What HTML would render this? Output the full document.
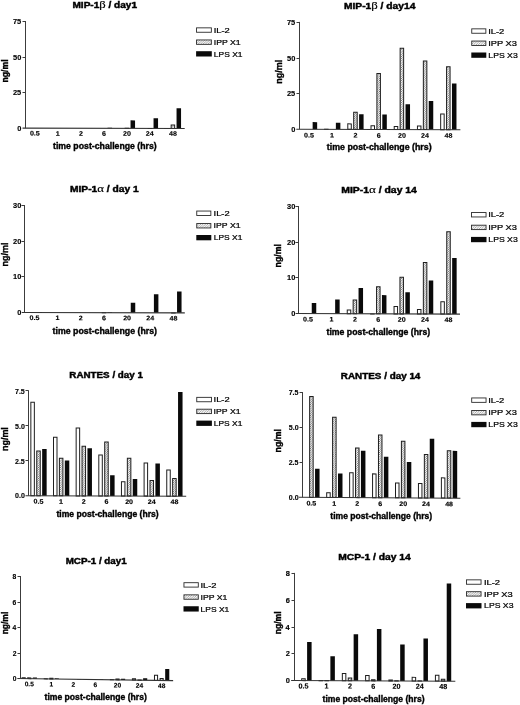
<!DOCTYPE html>
<html><head><meta charset="utf-8"><title>Chemokine production charts</title>
<style>
html,body{margin:0;padding:0;background:#fff;}
body{width:520px;height:705px;overflow:hidden;}
svg{display:block;font-family:"Liberation Sans",sans-serif;filter:blur(0.35px);}
</style></head><body>
<svg width="520" height="705" viewBox="0 0 520 705">
<defs>
<pattern id="hatch" patternUnits="userSpaceOnUse" width="2.2" height="2.2">
<rect width="2.2" height="2.2" fill="#f4f4f4"/>
<path d="M-0.55,0.55 l1.1,-1.1 M0,2.2 l2.2,-2.2 M1.65,2.75 l1.1,-1.1" stroke="#6a6a6a" stroke-width="0.7"/>
</pattern>
<pattern id="hatchL" patternUnits="userSpaceOnUse" width="2.4" height="2.4">
<rect width="2.4" height="2.4" fill="#fafafa"/>
<path d="M-0.6,0.6 l1.2,-1.2 M0,2.4 l2.4,-2.4 M1.8,3 l1.2,-1.2" stroke="#777" stroke-width="0.6"/>
</pattern>
</defs>
<rect width="520" height="705" fill="#fff"/>
<g transform="translate(25.5,128.15) skewY(0.1) translate(-25.5,-128.15)">
<rect x="107.55" y="127.58" width="4.50" height="0.57" fill="#0a0a0a"/>
<rect x="125.15" y="128.08" width="3.50" height="0.07" fill="url(#hatch)" stroke="#1e1e1e" stroke-width="1.0"/>
<rect x="130.55" y="120.19" width="4.50" height="7.96" fill="#0a0a0a"/>
<rect x="148.15" y="128.22" width="3.50" height="0.01" fill="url(#hatch)" stroke="#1e1e1e" stroke-width="1.0"/>
<rect x="153.55" y="118.05" width="4.50" height="10.10" fill="#0a0a0a"/>
<rect x="171.15" y="124.67" width="3.50" height="3.48" fill="url(#hatch)" stroke="#1e1e1e" stroke-width="1.0"/>
<rect x="176.55" y="107.96" width="4.50" height="20.19" fill="#0a0a0a"/>
<line x1="22.50" y1="128.15" x2="184.70" y2="128.15" stroke="#333" stroke-width="1.05"/>
<g stroke="#000" stroke-width="0.15"><text transform="translate(29.89,135.60) scale(1.080,1)" font-size="6.6" fill="#000"><tspan font-weight="bold">0.5</tspan></text></g>
<g stroke="#000" stroke-width="0.15"><text transform="translate(55.80,135.60) scale(1.080,1)" font-size="6.6" fill="#000"><tspan font-weight="bold">1</tspan></text></g>
<g stroke="#000" stroke-width="0.15"><text transform="translate(78.94,135.60) scale(1.080,1)" font-size="6.6" fill="#000"><tspan font-weight="bold">2</tspan></text></g>
<g stroke="#000" stroke-width="0.15"><text transform="translate(101.92,135.60) scale(1.080,1)" font-size="6.6" fill="#000"><tspan font-weight="bold">6</tspan></text></g>
<g stroke="#000" stroke-width="0.15"><text transform="translate(122.96,135.60) scale(1.080,1)" font-size="6.6" fill="#000"><tspan font-weight="bold">20</tspan></text></g>
<g stroke="#000" stroke-width="0.15"><text transform="translate(145.84,135.60) scale(1.080,1)" font-size="6.6" fill="#000"><tspan font-weight="bold">24</tspan></text></g>
<g stroke="#000" stroke-width="0.15"><text transform="translate(169.00,135.60) scale(1.080,1)" font-size="6.6" fill="#000"><tspan font-weight="bold">48</tspan></text></g>
</g>
<line x1="25.50" y1="21.00" x2="25.50" y2="128.15" stroke="#3c3c3c" stroke-width="1"/>
<g stroke="#000" stroke-width="0.12"><text transform="translate(17.16,130.66) scale(1.130,1)" font-size="6.6" fill="#000"><tspan font-weight="bold">0</tspan></text></g>
<line x1="22.50" y1="92.50" x2="25.50" y2="92.50" stroke="#3c3c3c" stroke-width="1"/>
<g stroke="#000" stroke-width="0.12"><text transform="translate(12.91,95.11) scale(1.130,1)" font-size="6.6" fill="#000"><tspan font-weight="bold">25</tspan></text></g>
<line x1="22.50" y1="57.50" x2="25.50" y2="57.50" stroke="#3c3c3c" stroke-width="1"/>
<g stroke="#000" stroke-width="0.12"><text transform="translate(13.02,59.56) scale(1.130,1)" font-size="6.6" fill="#000"><tspan font-weight="bold">50</tspan></text></g>
<line x1="22.50" y1="21.50" x2="25.50" y2="21.50" stroke="#3c3c3c" stroke-width="1"/>
<g stroke="#000" stroke-width="0.12"><text transform="translate(12.91,24.01) scale(1.130,1)" font-size="6.6" fill="#000"><tspan font-weight="bold">75</tspan></text></g>
<g stroke="#000" stroke-width="0.4"><text transform="translate(72.44,7.70) scale(1.201,1)" font-size="8.4" fill="#000"><tspan font-weight="bold">MIP-1</tspan><tspan font-family="Liberation Serif" font-size="1.25em" stroke-width="0.15">β</tspan><tspan font-weight="bold"> / day1</tspan></text></g>
<g stroke="#000" stroke-width="0.36"><text transform="translate(53.01,148.80) scale(1.016,1)" font-size="8.6" fill="#000"><tspan font-weight="bold">time post-challenge (hrs)</tspan></text></g>
<g stroke="#000" stroke-width="0.38"><text transform="translate(7.80,82.46) rotate(-90) scale(1.009,1)" font-size="8.6" fill="#000"><tspan font-weight="bold">ng/ml</tspan></text></g>
<rect x="196.55" y="27.85" width="14.80" height="4.4" fill="#fff" stroke="#2a2a2a" stroke-width="0.9"/>
<text transform="translate(213.66,32.75) scale(1.186,1)" font-size="7.9" fill="#000" stroke="#000" stroke-width="0.24">IL-2</text>
<rect x="196.55" y="39.95" width="14.80" height="4.4" fill="url(#hatchL)" stroke="#2a2a2a" stroke-width="0.9"/>
<text transform="translate(213.72,44.85) scale(1.103,1)" font-size="7.9" fill="#000" stroke="#000" stroke-width="0.24">IPP X1</text>
<rect x="196.10" y="51.20" width="15.70" height="5.3" fill="#0a0a0a"/>
<text transform="translate(213.82,56.55) scale(1.070,1)" font-size="7.9" fill="#000" stroke="#000" stroke-width="0.24">LPS X1</text>
<g transform="translate(299.3,129.2) skewY(0.18) translate(-299.3,-129.2)">
<rect x="312.65" y="122.08" width="4.50" height="7.12" fill="#0a0a0a"/>
<rect x="324.57" y="129.27" width="3.50" height="0.01" fill="#fff" stroke="#1e1e1e" stroke-width="1.0"/>
<rect x="335.87" y="122.65" width="4.50" height="6.55" fill="#0a0a0a"/>
<rect x="347.79" y="123.72" width="3.50" height="5.48" fill="#fff" stroke="#1e1e1e" stroke-width="1.0"/>
<rect x="353.69" y="112.04" width="3.50" height="17.16" fill="url(#hatch)" stroke="#1e1e1e" stroke-width="1.0"/>
<rect x="359.09" y="114.11" width="4.50" height="15.09" fill="#0a0a0a"/>
<rect x="371.01" y="125.43" width="3.50" height="3.77" fill="#fff" stroke="#1e1e1e" stroke-width="1.0"/>
<rect x="376.91" y="73.31" width="3.50" height="55.89" fill="url(#hatch)" stroke="#1e1e1e" stroke-width="1.0"/>
<rect x="382.31" y="114.25" width="4.50" height="14.95" fill="#0a0a0a"/>
<rect x="394.23" y="126.28" width="3.50" height="2.92" fill="#fff" stroke="#1e1e1e" stroke-width="1.0"/>
<rect x="400.13" y="47.96" width="3.50" height="81.24" fill="url(#hatch)" stroke="#1e1e1e" stroke-width="1.0"/>
<rect x="405.53" y="104.00" width="4.50" height="25.20" fill="#0a0a0a"/>
<rect x="417.45" y="125.71" width="3.50" height="3.49" fill="#fff" stroke="#1e1e1e" stroke-width="1.0"/>
<rect x="423.35" y="60.64" width="3.50" height="68.56" fill="url(#hatch)" stroke="#1e1e1e" stroke-width="1.0"/>
<rect x="428.75" y="100.58" width="4.50" height="28.62" fill="#0a0a0a"/>
<rect x="440.67" y="113.61" width="3.50" height="15.59" fill="#fff" stroke="#1e1e1e" stroke-width="1.0"/>
<rect x="446.57" y="66.33" width="3.50" height="62.87" fill="url(#hatch)" stroke="#1e1e1e" stroke-width="1.0"/>
<rect x="451.97" y="82.92" width="4.50" height="46.28" fill="#0a0a0a"/>
<line x1="296.30" y1="129.20" x2="460.40" y2="129.20" stroke="#333" stroke-width="1.05"/>
<g stroke="#000" stroke-width="0.15"><text transform="translate(303.99,137.40) scale(1.080,1)" font-size="6.6" fill="#000"><tspan font-weight="bold">0.5</tspan></text></g>
<g stroke="#000" stroke-width="0.15"><text transform="translate(330.12,137.40) scale(1.080,1)" font-size="6.6" fill="#000"><tspan font-weight="bold">1</tspan></text></g>
<g stroke="#000" stroke-width="0.15"><text transform="translate(353.48,137.40) scale(1.080,1)" font-size="6.6" fill="#000"><tspan font-weight="bold">2</tspan></text></g>
<g stroke="#000" stroke-width="0.15"><text transform="translate(376.68,137.40) scale(1.080,1)" font-size="6.6" fill="#000"><tspan font-weight="bold">6</tspan></text></g>
<g stroke="#000" stroke-width="0.15"><text transform="translate(397.94,137.40) scale(1.080,1)" font-size="6.6" fill="#000"><tspan font-weight="bold">20</tspan></text></g>
<g stroke="#000" stroke-width="0.15"><text transform="translate(421.04,137.40) scale(1.080,1)" font-size="6.6" fill="#000"><tspan font-weight="bold">24</tspan></text></g>
<g stroke="#000" stroke-width="0.15"><text transform="translate(444.42,137.40) scale(1.080,1)" font-size="6.6" fill="#000"><tspan font-weight="bold">48</tspan></text></g>
</g>
<line x1="299.50" y1="21.90" x2="299.50" y2="129.20" stroke="#3c3c3c" stroke-width="1"/>
<g stroke="#000" stroke-width="0.12"><text transform="translate(291.16,131.71) scale(1.130,1)" font-size="6.6" fill="#000"><tspan font-weight="bold">0</tspan></text></g>
<line x1="296.50" y1="93.50" x2="299.50" y2="93.50" stroke="#3c3c3c" stroke-width="1"/>
<g stroke="#000" stroke-width="0.12"><text transform="translate(286.91,96.11) scale(1.130,1)" font-size="6.6" fill="#000"><tspan font-weight="bold">25</tspan></text></g>
<line x1="296.50" y1="58.50" x2="299.50" y2="58.50" stroke="#3c3c3c" stroke-width="1"/>
<g stroke="#000" stroke-width="0.12"><text transform="translate(287.02,60.51) scale(1.130,1)" font-size="6.6" fill="#000"><tspan font-weight="bold">50</tspan></text></g>
<line x1="296.50" y1="22.50" x2="299.50" y2="22.50" stroke="#3c3c3c" stroke-width="1"/>
<g stroke="#000" stroke-width="0.12"><text transform="translate(286.91,24.91) scale(1.130,1)" font-size="6.6" fill="#000"><tspan font-weight="bold">75</tspan></text></g>
<g stroke="#000" stroke-width="0.4"><text transform="translate(343.93,8.50) scale(1.221,1)" font-size="8.4" fill="#000"><tspan font-weight="bold">MIP-1</tspan><tspan font-family="Liberation Serif" font-size="1.25em" stroke-width="0.15">β</tspan><tspan font-weight="bold"> / day14</tspan></text></g>
<g stroke="#000" stroke-width="0.36"><text transform="translate(326.81,150.30) scale(1.026,1)" font-size="8.6" fill="#000"><tspan font-weight="bold">time post-challenge (hrs)</tspan></text></g>
<g stroke="#000" stroke-width="0.38"><text transform="translate(282.30,83.68) rotate(-90) scale(1.041,1)" font-size="8.6" fill="#000"><tspan font-weight="bold">ng/ml</tspan></text></g>
<rect x="471.75" y="28.85" width="14.10" height="4.4" fill="#fff" stroke="#2a2a2a" stroke-width="0.9"/>
<text transform="translate(488.16,33.75) scale(1.186,1)" font-size="7.9" fill="#000" stroke="#000" stroke-width="0.24">IL-2</text>
<rect x="471.75" y="41.05" width="14.10" height="4.4" fill="url(#hatchL)" stroke="#2a2a2a" stroke-width="0.9"/>
<text transform="translate(488.16,45.95) scale(1.178,1)" font-size="7.9" fill="#000" stroke="#000" stroke-width="0.24">IPP X3</text>
<rect x="471.30" y="52.50" width="15.00" height="5.3" fill="#0a0a0a"/>
<text transform="translate(488.31,57.85) scale(1.099,1)" font-size="7.9" fill="#000" stroke="#000" stroke-width="0.24">LPS X3</text>
<g transform="translate(24.8,312.45) skewY(0.15) translate(-24.8,-312.45)">
<rect x="102.20" y="312.59" width="3.50" height="0.01" fill="url(#hatch)" stroke="#1e1e1e" stroke-width="1.0"/>
<rect x="107.60" y="312.09" width="4.50" height="0.36" fill="#0a0a0a"/>
<rect x="130.75" y="302.47" width="4.50" height="9.98" fill="#0a0a0a"/>
<rect x="153.90" y="293.91" width="4.50" height="18.54" fill="#0a0a0a"/>
<rect x="171.65" y="312.59" width="3.50" height="0.01" fill="url(#hatch)" stroke="#1e1e1e" stroke-width="1.0"/>
<rect x="177.05" y="291.06" width="4.50" height="21.39" fill="#0a0a0a"/>
<line x1="21.80" y1="312.45" x2="184.80" y2="312.45" stroke="#333" stroke-width="1.05"/>
<g stroke="#000" stroke-width="0.15"><text transform="translate(29.49,320.00) scale(1.080,1)" font-size="6.6" fill="#000"><tspan font-weight="bold">0.5</tspan></text></g>
<g stroke="#000" stroke-width="0.15"><text transform="translate(55.55,320.00) scale(1.080,1)" font-size="6.6" fill="#000"><tspan font-weight="bold">1</tspan></text></g>
<g stroke="#000" stroke-width="0.15"><text transform="translate(78.84,320.00) scale(1.080,1)" font-size="6.6" fill="#000"><tspan font-weight="bold">2</tspan></text></g>
<g stroke="#000" stroke-width="0.15"><text transform="translate(101.97,320.00) scale(1.080,1)" font-size="6.6" fill="#000"><tspan font-weight="bold">6</tspan></text></g>
<g stroke="#000" stroke-width="0.15"><text transform="translate(123.16,320.00) scale(1.080,1)" font-size="6.6" fill="#000"><tspan font-weight="bold">20</tspan></text></g>
<g stroke="#000" stroke-width="0.15"><text transform="translate(146.19,320.00) scale(1.080,1)" font-size="6.6" fill="#000"><tspan font-weight="bold">24</tspan></text></g>
<g stroke="#000" stroke-width="0.15"><text transform="translate(169.50,320.00) scale(1.080,1)" font-size="6.6" fill="#000"><tspan font-weight="bold">48</tspan></text></g>
</g>
<line x1="24.50" y1="205.00" x2="24.50" y2="312.45" stroke="#3c3c3c" stroke-width="1"/>
<g stroke="#000" stroke-width="0.12"><text transform="translate(17.16,314.96) scale(1.130,1)" font-size="6.6" fill="#000"><tspan font-weight="bold">0</tspan></text></g>
<line x1="21.50" y1="276.50" x2="24.50" y2="276.50" stroke="#3c3c3c" stroke-width="1"/>
<g stroke="#000" stroke-width="0.12"><text transform="translate(13.02,279.31) scale(1.130,1)" font-size="6.6" fill="#000"><tspan font-weight="bold">10</tspan></text></g>
<line x1="21.50" y1="241.50" x2="24.50" y2="241.50" stroke="#3c3c3c" stroke-width="1"/>
<g stroke="#000" stroke-width="0.12"><text transform="translate(13.02,243.66) scale(1.130,1)" font-size="6.6" fill="#000"><tspan font-weight="bold">20</tspan></text></g>
<line x1="21.50" y1="205.50" x2="24.50" y2="205.50" stroke="#3c3c3c" stroke-width="1"/>
<g stroke="#000" stroke-width="0.12"><text transform="translate(13.02,208.01) scale(1.130,1)" font-size="6.6" fill="#000"><tspan font-weight="bold">30</tspan></text></g>
<g stroke="#000" stroke-width="0.4"><text transform="translate(69.93,191.50) scale(1.221,1)" font-size="8.4" fill="#000"><tspan font-weight="bold">MIP-1</tspan><tspan font-family="Liberation Serif" font-size="1.25em" stroke-width="0.15">α</tspan><tspan font-weight="bold"> / day 1</tspan></text></g>
<g stroke="#000" stroke-width="0.36"><text transform="translate(52.61,333.50) scale(1.021,1)" font-size="8.6" fill="#000"><tspan font-weight="bold">time post-challenge (hrs)</tspan></text></g>
<g stroke="#000" stroke-width="0.38"><text transform="translate(7.70,266.38) rotate(-90) scale(1.041,1)" font-size="8.6" fill="#000"><tspan font-weight="bold">ng/ml</tspan></text></g>
<rect x="196.75" y="211.05" width="14.10" height="4.4" fill="#fff" stroke="#2a2a2a" stroke-width="0.9"/>
<text transform="translate(213.56,215.95) scale(1.186,1)" font-size="7.9" fill="#000" stroke="#000" stroke-width="0.24">IL-2</text>
<rect x="196.75" y="223.55" width="14.10" height="4.4" fill="url(#hatchL)" stroke="#2a2a2a" stroke-width="0.9"/>
<text transform="translate(213.62,228.45) scale(1.103,1)" font-size="7.9" fill="#000" stroke="#000" stroke-width="0.24">IPP X1</text>
<rect x="196.30" y="235.00" width="15.00" height="5.3" fill="#0a0a0a"/>
<text transform="translate(213.72,240.35) scale(1.070,1)" font-size="7.9" fill="#000" stroke="#000" stroke-width="0.24">LPS X1</text>
<g transform="translate(298.7,313.55) skewY(0.2) translate(-298.7,-313.55)">
<rect x="311.75" y="303.02" width="4.50" height="10.53" fill="#0a0a0a"/>
<rect x="335.15" y="299.28" width="4.50" height="14.27" fill="#0a0a0a"/>
<rect x="347.25" y="309.77" width="3.50" height="3.78" fill="#fff" stroke="#1e1e1e" stroke-width="1.0"/>
<rect x="353.15" y="299.78" width="3.50" height="13.77" fill="url(#hatch)" stroke="#1e1e1e" stroke-width="1.0"/>
<rect x="358.55" y="287.86" width="4.50" height="25.69" fill="#0a0a0a"/>
<rect x="370.65" y="313.69" width="3.50" height="0.01" fill="#fff" stroke="#1e1e1e" stroke-width="1.0"/>
<rect x="376.55" y="286.57" width="3.50" height="26.98" fill="url(#hatch)" stroke="#1e1e1e" stroke-width="1.0"/>
<rect x="381.95" y="294.82" width="4.50" height="18.73" fill="#0a0a0a"/>
<rect x="394.05" y="306.20" width="3.50" height="7.35" fill="#fff" stroke="#1e1e1e" stroke-width="1.0"/>
<rect x="399.95" y="276.94" width="3.50" height="36.61" fill="url(#hatch)" stroke="#1e1e1e" stroke-width="1.0"/>
<rect x="405.35" y="291.78" width="4.50" height="21.77" fill="#0a0a0a"/>
<rect x="417.45" y="309.05" width="3.50" height="4.50" fill="#fff" stroke="#1e1e1e" stroke-width="1.0"/>
<rect x="423.35" y="262.13" width="3.50" height="51.42" fill="url(#hatch)" stroke="#1e1e1e" stroke-width="1.0"/>
<rect x="428.75" y="280.01" width="4.50" height="33.54" fill="#0a0a0a"/>
<rect x="440.85" y="301.20" width="3.50" height="12.35" fill="#fff" stroke="#1e1e1e" stroke-width="1.0"/>
<rect x="446.75" y="231.26" width="3.50" height="82.29" fill="url(#hatch)" stroke="#1e1e1e" stroke-width="1.0"/>
<rect x="452.15" y="257.53" width="4.50" height="56.02" fill="#0a0a0a"/>
<line x1="295.70" y1="313.55" x2="460.00" y2="313.55" stroke="#333" stroke-width="1.05"/>
<g stroke="#000" stroke-width="0.15"><text transform="translate(303.09,321.40) scale(1.080,1)" font-size="6.6" fill="#000"><tspan font-weight="bold">0.5</tspan></text></g>
<g stroke="#000" stroke-width="0.15"><text transform="translate(329.40,321.40) scale(1.080,1)" font-size="6.6" fill="#000"><tspan font-weight="bold">1</tspan></text></g>
<g stroke="#000" stroke-width="0.15"><text transform="translate(352.94,321.40) scale(1.080,1)" font-size="6.6" fill="#000"><tspan font-weight="bold">2</tspan></text></g>
<g stroke="#000" stroke-width="0.15"><text transform="translate(376.32,321.40) scale(1.080,1)" font-size="6.6" fill="#000"><tspan font-weight="bold">6</tspan></text></g>
<g stroke="#000" stroke-width="0.15"><text transform="translate(397.76,321.40) scale(1.080,1)" font-size="6.6" fill="#000"><tspan font-weight="bold">20</tspan></text></g>
<g stroke="#000" stroke-width="0.15"><text transform="translate(421.04,321.40) scale(1.080,1)" font-size="6.6" fill="#000"><tspan font-weight="bold">24</tspan></text></g>
<g stroke="#000" stroke-width="0.15"><text transform="translate(444.60,321.40) scale(1.080,1)" font-size="6.6" fill="#000"><tspan font-weight="bold">48</tspan></text></g>
</g>
<line x1="298.50" y1="206.00" x2="298.50" y2="313.55" stroke="#3c3c3c" stroke-width="1"/>
<g stroke="#000" stroke-width="0.12"><text transform="translate(291.16,316.06) scale(1.130,1)" font-size="6.6" fill="#000"><tspan font-weight="bold">0</tspan></text></g>
<line x1="295.50" y1="277.50" x2="298.50" y2="277.50" stroke="#3c3c3c" stroke-width="1"/>
<g stroke="#000" stroke-width="0.12"><text transform="translate(287.02,280.37) scale(1.130,1)" font-size="6.6" fill="#000"><tspan font-weight="bold">10</tspan></text></g>
<line x1="295.50" y1="242.50" x2="298.50" y2="242.50" stroke="#3c3c3c" stroke-width="1"/>
<g stroke="#000" stroke-width="0.12"><text transform="translate(287.02,244.69) scale(1.130,1)" font-size="6.6" fill="#000"><tspan font-weight="bold">20</tspan></text></g>
<line x1="295.50" y1="206.50" x2="298.50" y2="206.50" stroke="#3c3c3c" stroke-width="1"/>
<g stroke="#000" stroke-width="0.12"><text transform="translate(287.02,209.01) scale(1.130,1)" font-size="6.6" fill="#000"><tspan font-weight="bold">30</tspan></text></g>
<g stroke="#000" stroke-width="0.4"><text transform="translate(341.22,193.10) scale(1.241,1)" font-size="8.4" fill="#000"><tspan font-weight="bold">MIP-1</tspan><tspan font-family="Liberation Serif" font-size="1.25em" stroke-width="0.15">α</tspan><tspan font-weight="bold"> / day 14</tspan></text></g>
<g stroke="#000" stroke-width="0.36"><text transform="translate(326.51,335.30) scale(1.016,1)" font-size="8.6" fill="#000"><tspan font-weight="bold">time post-challenge (hrs)</tspan></text></g>
<g stroke="#000" stroke-width="0.38"><text transform="translate(280.90,267.47) rotate(-90) scale(1.023,1)" font-size="8.6" fill="#000"><tspan font-weight="bold">ng/ml</tspan></text></g>
<rect x="471.45" y="212.55" width="14.60" height="4.4" fill="#fff" stroke="#2a2a2a" stroke-width="0.9"/>
<text transform="translate(488.16,217.45) scale(1.186,1)" font-size="7.9" fill="#000" stroke="#000" stroke-width="0.24">IL-2</text>
<rect x="471.45" y="225.20" width="14.60" height="4.4" fill="url(#hatchL)" stroke="#2a2a2a" stroke-width="0.9"/>
<text transform="translate(488.16,230.10) scale(1.178,1)" font-size="7.9" fill="#000" stroke="#000" stroke-width="0.24">IPP X3</text>
<rect x="471.00" y="236.90" width="15.50" height="5.3" fill="#0a0a0a"/>
<text transform="translate(488.31,242.25) scale(1.099,1)" font-size="7.9" fill="#000" stroke="#000" stroke-width="0.24">LPS X3</text>
<g transform="translate(28.5,495.75) skewY(0.18) translate(-28.5,-495.75)">
<rect x="30.85" y="402.35" width="3.50" height="93.40" fill="#fff" stroke="#1e1e1e" stroke-width="1.0"/>
<rect x="36.75" y="450.91" width="3.50" height="44.84" fill="url(#hatch)" stroke="#1e1e1e" stroke-width="1.0"/>
<rect x="42.15" y="448.87" width="4.50" height="46.88" fill="#0a0a0a"/>
<rect x="53.50" y="437.06" width="3.50" height="58.69" fill="#fff" stroke="#1e1e1e" stroke-width="1.0"/>
<rect x="59.40" y="458.05" width="3.50" height="37.70" fill="url(#hatch)" stroke="#1e1e1e" stroke-width="1.0"/>
<rect x="64.80" y="460.49" width="4.50" height="35.26" fill="#0a0a0a"/>
<rect x="76.15" y="427.82" width="3.50" height="67.93" fill="#fff" stroke="#1e1e1e" stroke-width="1.0"/>
<rect x="82.05" y="446.15" width="3.50" height="49.60" fill="url(#hatch)" stroke="#1e1e1e" stroke-width="1.0"/>
<rect x="87.45" y="448.17" width="4.50" height="47.58" fill="#0a0a0a"/>
<rect x="98.80" y="454.69" width="3.50" height="41.06" fill="#fff" stroke="#1e1e1e" stroke-width="1.0"/>
<rect x="104.70" y="441.82" width="3.50" height="53.93" fill="url(#hatch)" stroke="#1e1e1e" stroke-width="1.0"/>
<rect x="110.10" y="474.90" width="4.50" height="20.85" fill="#0a0a0a"/>
<rect x="121.45" y="481.56" width="3.50" height="14.19" fill="#fff" stroke="#1e1e1e" stroke-width="1.0"/>
<rect x="127.35" y="457.91" width="3.50" height="37.84" fill="url(#hatch)" stroke="#1e1e1e" stroke-width="1.0"/>
<rect x="132.75" y="478.68" width="4.50" height="17.07" fill="#0a0a0a"/>
<rect x="144.10" y="462.67" width="3.50" height="33.08" fill="#fff" stroke="#1e1e1e" stroke-width="1.0"/>
<rect x="150.00" y="480.16" width="3.50" height="15.59" fill="url(#hatch)" stroke="#1e1e1e" stroke-width="1.0"/>
<rect x="155.40" y="463.01" width="4.50" height="32.74" fill="#0a0a0a"/>
<rect x="166.75" y="469.66" width="3.50" height="26.09" fill="#fff" stroke="#1e1e1e" stroke-width="1.0"/>
<rect x="172.65" y="478.06" width="3.50" height="17.69" fill="url(#hatch)" stroke="#1e1e1e" stroke-width="1.0"/>
<rect x="178.05" y="391.50" width="4.50" height="104.25" fill="#0a0a0a"/>
<line x1="25.50" y1="495.75" x2="186.20" y2="495.75" stroke="#333" stroke-width="1.05"/>
<g stroke="#000" stroke-width="0.15"><text transform="translate(33.49,503.60) scale(1.080,1)" font-size="6.6" fill="#000"><tspan font-weight="bold">0.5</tspan></text></g>
<g stroke="#000" stroke-width="0.15"><text transform="translate(59.05,503.60) scale(1.080,1)" font-size="6.6" fill="#000"><tspan font-weight="bold">1</tspan></text></g>
<g stroke="#000" stroke-width="0.15"><text transform="translate(81.84,503.60) scale(1.080,1)" font-size="6.6" fill="#000"><tspan font-weight="bold">2</tspan></text></g>
<g stroke="#000" stroke-width="0.15"><text transform="translate(104.47,503.60) scale(1.080,1)" font-size="6.6" fill="#000"><tspan font-weight="bold">6</tspan></text></g>
<g stroke="#000" stroke-width="0.15"><text transform="translate(125.16,503.60) scale(1.080,1)" font-size="6.6" fill="#000"><tspan font-weight="bold">20</tspan></text></g>
<g stroke="#000" stroke-width="0.15"><text transform="translate(147.69,503.60) scale(1.080,1)" font-size="6.6" fill="#000"><tspan font-weight="bold">24</tspan></text></g>
<g stroke="#000" stroke-width="0.15"><text transform="translate(170.50,503.60) scale(1.080,1)" font-size="6.6" fill="#000"><tspan font-weight="bold">48</tspan></text></g>
</g>
<line x1="28.50" y1="390.30" x2="28.50" y2="495.75" stroke="#3c3c3c" stroke-width="1"/>
<g stroke="#000" stroke-width="0.12"><text transform="translate(15.07,498.49) scale(0.980,1)" font-size="7.2" fill="#000"><tspan font-weight="bold">0.0</tspan></text></g>
<line x1="25.50" y1="460.50" x2="28.50" y2="460.50" stroke="#3c3c3c" stroke-width="1"/>
<g stroke="#000" stroke-width="0.12"><text transform="translate(14.97,463.50) scale(0.980,1)" font-size="7.2" fill="#000"><tspan font-weight="bold">2.5</tspan></text></g>
<line x1="25.50" y1="425.50" x2="28.50" y2="425.50" stroke="#3c3c3c" stroke-width="1"/>
<g stroke="#000" stroke-width="0.12"><text transform="translate(15.07,428.52) scale(0.980,1)" font-size="7.2" fill="#000"><tspan font-weight="bold">5.0</tspan></text></g>
<line x1="25.50" y1="390.50" x2="28.50" y2="390.50" stroke="#3c3c3c" stroke-width="1"/>
<g stroke="#000" stroke-width="0.12"><text transform="translate(14.97,393.54) scale(0.980,1)" font-size="7.2" fill="#000"><tspan font-weight="bold">7.5</tspan></text></g>
<g stroke="#000" stroke-width="0.4"><text transform="translate(69.36,378.10) scale(1.168,1)" font-size="8.4" fill="#000"><tspan font-weight="bold">RANTES / day 1</tspan></text></g>
<g stroke="#000" stroke-width="0.36"><text transform="translate(56.41,516.60) scale(1.002,1)" font-size="8.6" fill="#000"><tspan font-weight="bold">time post-challenge (hrs)</tspan></text></g>
<g stroke="#000" stroke-width="0.38"><text transform="translate(7.70,450.98) rotate(-90) scale(1.041,1)" font-size="8.6" fill="#000"><tspan font-weight="bold">ng/ml</tspan></text></g>
<rect x="196.75" y="397.35" width="14.70" height="4.4" fill="#fff" stroke="#2a2a2a" stroke-width="0.9"/>
<text transform="translate(213.56,402.25) scale(1.186,1)" font-size="7.9" fill="#000" stroke="#000" stroke-width="0.24">IL-2</text>
<rect x="196.75" y="409.20" width="14.70" height="4.4" fill="url(#hatchL)" stroke="#2a2a2a" stroke-width="0.9"/>
<text transform="translate(213.62,414.10) scale(1.103,1)" font-size="7.9" fill="#000" stroke="#000" stroke-width="0.24">IPP X1</text>
<rect x="196.30" y="420.60" width="15.60" height="5.3" fill="#0a0a0a"/>
<text transform="translate(213.72,425.95) scale(1.070,1)" font-size="7.9" fill="#000" stroke="#000" stroke-width="0.24">LPS X1</text>
<g transform="translate(302.0,497.35) skewY(0.29) translate(-302.0,-497.35)">
<rect x="309.65" y="396.36" width="3.50" height="100.99" fill="url(#hatch)" stroke="#1e1e1e" stroke-width="1.0"/>
<rect x="315.05" y="468.69" width="4.50" height="28.66" fill="#0a0a0a"/>
<rect x="326.69" y="492.54" width="3.50" height="4.81" fill="#fff" stroke="#1e1e1e" stroke-width="1.0"/>
<rect x="332.59" y="417.05" width="3.50" height="80.30" fill="url(#hatch)" stroke="#1e1e1e" stroke-width="1.0"/>
<rect x="337.99" y="473.30" width="4.50" height="24.05" fill="#0a0a0a"/>
<rect x="349.63" y="472.41" width="3.50" height="24.94" fill="#fff" stroke="#1e1e1e" stroke-width="1.0"/>
<rect x="355.53" y="447.66" width="3.50" height="49.69" fill="url(#hatch)" stroke="#1e1e1e" stroke-width="1.0"/>
<rect x="360.93" y="450.52" width="4.50" height="46.83" fill="#0a0a0a"/>
<rect x="372.57" y="473.52" width="3.50" height="23.83" fill="#fff" stroke="#1e1e1e" stroke-width="1.0"/>
<rect x="378.47" y="434.66" width="3.50" height="62.69" fill="url(#hatch)" stroke="#1e1e1e" stroke-width="1.0"/>
<rect x="383.87" y="456.25" width="4.50" height="41.10" fill="#0a0a0a"/>
<rect x="395.51" y="482.47" width="3.50" height="14.88" fill="#fff" stroke="#1e1e1e" stroke-width="1.0"/>
<rect x="401.41" y="440.81" width="3.50" height="56.54" fill="url(#hatch)" stroke="#1e1e1e" stroke-width="1.0"/>
<rect x="406.81" y="461.56" width="4.50" height="35.79" fill="#0a0a0a"/>
<rect x="418.45" y="482.89" width="3.50" height="14.46" fill="#fff" stroke="#1e1e1e" stroke-width="1.0"/>
<rect x="424.35" y="453.81" width="3.50" height="43.54" fill="url(#hatch)" stroke="#1e1e1e" stroke-width="1.0"/>
<rect x="429.75" y="438.07" width="4.50" height="59.28" fill="#0a0a0a"/>
<rect x="441.39" y="477.16" width="3.50" height="20.19" fill="#fff" stroke="#1e1e1e" stroke-width="1.0"/>
<rect x="447.29" y="449.90" width="3.50" height="47.45" fill="url(#hatch)" stroke="#1e1e1e" stroke-width="1.0"/>
<rect x="452.69" y="450.10" width="4.50" height="47.25" fill="#0a0a0a"/>
<line x1="299.00" y1="497.35" x2="460.40" y2="497.35" stroke="#333" stroke-width="1.05"/>
<g stroke="#000" stroke-width="0.15"><text transform="translate(306.39,505.50) scale(1.080,1)" font-size="6.6" fill="#000"><tspan font-weight="bold">0.5</tspan></text></g>
<g stroke="#000" stroke-width="0.15"><text transform="translate(332.24,505.50) scale(1.080,1)" font-size="6.6" fill="#000"><tspan font-weight="bold">1</tspan></text></g>
<g stroke="#000" stroke-width="0.15"><text transform="translate(355.32,505.50) scale(1.080,1)" font-size="6.6" fill="#000"><tspan font-weight="bold">2</tspan></text></g>
<g stroke="#000" stroke-width="0.15"><text transform="translate(378.24,505.50) scale(1.080,1)" font-size="6.6" fill="#000"><tspan font-weight="bold">6</tspan></text></g>
<g stroke="#000" stroke-width="0.15"><text transform="translate(399.22,505.50) scale(1.080,1)" font-size="6.6" fill="#000"><tspan font-weight="bold">20</tspan></text></g>
<g stroke="#000" stroke-width="0.15"><text transform="translate(422.04,505.50) scale(1.080,1)" font-size="6.6" fill="#000"><tspan font-weight="bold">24</tspan></text></g>
<g stroke="#000" stroke-width="0.15"><text transform="translate(445.14,505.50) scale(1.080,1)" font-size="6.6" fill="#000"><tspan font-weight="bold">48</tspan></text></g>
</g>
<line x1="302.50" y1="392.00" x2="302.50" y2="497.35" stroke="#3c3c3c" stroke-width="1"/>
<g stroke="#000" stroke-width="0.12"><text transform="translate(288.77,500.09) scale(0.980,1)" font-size="7.2" fill="#000"><tspan font-weight="bold">0.0</tspan></text></g>
<line x1="299.50" y1="462.50" x2="302.50" y2="462.50" stroke="#3c3c3c" stroke-width="1"/>
<g stroke="#000" stroke-width="0.12"><text transform="translate(288.67,465.14) scale(0.980,1)" font-size="7.2" fill="#000"><tspan font-weight="bold">2.5</tspan></text></g>
<line x1="299.50" y1="427.50" x2="302.50" y2="427.50" stroke="#3c3c3c" stroke-width="1"/>
<g stroke="#000" stroke-width="0.12"><text transform="translate(288.77,430.19) scale(0.980,1)" font-size="7.2" fill="#000"><tspan font-weight="bold">5.0</tspan></text></g>
<line x1="299.50" y1="392.50" x2="302.50" y2="392.50" stroke="#3c3c3c" stroke-width="1"/>
<g stroke="#000" stroke-width="0.12"><text transform="translate(288.67,395.24) scale(0.980,1)" font-size="7.2" fill="#000"><tspan font-weight="bold">7.5</tspan></text></g>
<g stroke="#000" stroke-width="0.4"><text transform="translate(340.86,379.40) scale(1.176,1)" font-size="8.4" fill="#000"><tspan font-weight="bold">RANTES / day 14</tspan></text></g>
<g stroke="#000" stroke-width="0.36"><text transform="translate(330.31,518.50) scale(0.998,1)" font-size="8.6" fill="#000"><tspan font-weight="bold">time post-challenge (hrs)</tspan></text></g>
<g stroke="#000" stroke-width="0.38"><text transform="translate(280.90,452.47) rotate(-90) scale(1.023,1)" font-size="8.6" fill="#000"><tspan font-weight="bold">ng/ml</tspan></text></g>
<rect x="471.70" y="397.95" width="14.35" height="4.4" fill="#fff" stroke="#2a2a2a" stroke-width="0.9"/>
<text transform="translate(488.16,402.85) scale(1.186,1)" font-size="7.9" fill="#000" stroke="#000" stroke-width="0.24">IL-2</text>
<rect x="471.70" y="410.45" width="14.35" height="4.4" fill="url(#hatchL)" stroke="#2a2a2a" stroke-width="0.9"/>
<text transform="translate(488.16,415.35) scale(1.178,1)" font-size="7.9" fill="#000" stroke="#000" stroke-width="0.24">IPP X3</text>
<rect x="471.25" y="421.90" width="15.25" height="5.3" fill="#0a0a0a"/>
<text transform="translate(488.31,427.25) scale(1.099,1)" font-size="7.9" fill="#000" stroke="#000" stroke-width="0.24">LPS X3</text>
<g transform="translate(20.3,678.5) skewY(0.8) translate(-20.3,-678.5)">
<rect x="22.12" y="677.73" width="3.10" height="0.78" fill="#fff" stroke="#1e1e1e" stroke-width="1.0"/>
<rect x="27.72" y="677.73" width="3.10" height="0.78" fill="url(#hatch)" stroke="#1e1e1e" stroke-width="1.0"/>
<rect x="32.82" y="677.23" width="4.10" height="1.28" fill="#0a0a0a"/>
<rect x="44.18" y="678.36" width="3.10" height="0.14" fill="#fff" stroke="#1e1e1e" stroke-width="1.0"/>
<rect x="49.78" y="677.73" width="3.10" height="0.78" fill="url(#hatch)" stroke="#1e1e1e" stroke-width="1.0"/>
<rect x="54.88" y="677.86" width="4.10" height="0.64" fill="#0a0a0a"/>
<rect x="76.94" y="678.12" width="4.10" height="0.38" fill="#0a0a0a"/>
<rect x="99.00" y="678.12" width="4.10" height="0.38" fill="#0a0a0a"/>
<rect x="110.36" y="678.36" width="3.10" height="0.14" fill="#fff" stroke="#1e1e1e" stroke-width="1.0"/>
<rect x="115.96" y="677.73" width="3.10" height="0.78" fill="url(#hatch)" stroke="#1e1e1e" stroke-width="1.0"/>
<rect x="121.06" y="677.23" width="4.10" height="1.28" fill="#0a0a0a"/>
<rect x="132.42" y="677.09" width="3.10" height="1.41" fill="#fff" stroke="#1e1e1e" stroke-width="1.0"/>
<rect x="138.02" y="678.36" width="3.10" height="0.14" fill="url(#hatch)" stroke="#1e1e1e" stroke-width="1.0"/>
<rect x="143.12" y="676.59" width="4.10" height="1.91" fill="#0a0a0a"/>
<rect x="154.48" y="673.26" width="3.10" height="5.24" fill="#fff" stroke="#1e1e1e" stroke-width="1.0"/>
<rect x="160.08" y="676.45" width="3.10" height="2.05" fill="url(#hatch)" stroke="#1e1e1e" stroke-width="1.0"/>
<rect x="165.18" y="667.02" width="4.10" height="11.47" fill="#0a0a0a"/>
<line x1="17.30" y1="678.50" x2="173.10" y2="678.50" stroke="#333" stroke-width="1.05"/>
<g stroke="#000" stroke-width="0.15"><text transform="translate(24.63,686.10) scale(1.000,1)" font-size="6.6" fill="#000"><tspan font-weight="bold">0.5</tspan></text></g>
<g stroke="#000" stroke-width="0.15"><text transform="translate(49.38,686.10) scale(1.000,1)" font-size="6.6" fill="#000"><tspan font-weight="bold">1</tspan></text></g>
<g stroke="#000" stroke-width="0.15"><text transform="translate(71.58,686.10) scale(1.000,1)" font-size="6.6" fill="#000"><tspan font-weight="bold">2</tspan></text></g>
<g stroke="#000" stroke-width="0.15"><text transform="translate(93.62,686.10) scale(1.000,1)" font-size="6.6" fill="#000"><tspan font-weight="bold">6</tspan></text></g>
<g stroke="#000" stroke-width="0.15"><text transform="translate(113.86,686.10) scale(1.000,1)" font-size="6.6" fill="#000"><tspan font-weight="bold">20</tspan></text></g>
<g stroke="#000" stroke-width="0.15"><text transform="translate(135.81,686.10) scale(1.000,1)" font-size="6.6" fill="#000"><tspan font-weight="bold">24</tspan></text></g>
<g stroke="#000" stroke-width="0.15"><text transform="translate(158.02,686.10) scale(1.000,1)" font-size="6.6" fill="#000"><tspan font-weight="bold">48</tspan></text></g>
</g>
<line x1="20.50" y1="576.00" x2="20.50" y2="678.50" stroke="#3c3c3c" stroke-width="1"/>
<g stroke="#000" stroke-width="0.12"><text transform="translate(12.63,681.01) scale(1.020,1)" font-size="6.6" fill="#000"><tspan font-weight="bold">0</tspan></text></g>
<line x1="17.50" y1="653.50" x2="20.50" y2="653.50" stroke="#3c3c3c" stroke-width="1"/>
<g stroke="#000" stroke-width="0.12"><text transform="translate(12.63,655.51) scale(1.020,1)" font-size="6.6" fill="#000"><tspan font-weight="bold">2</tspan></text></g>
<line x1="17.50" y1="627.50" x2="20.50" y2="627.50" stroke="#3c3c3c" stroke-width="1"/>
<g stroke="#000" stroke-width="0.12"><text transform="translate(12.40,630.01) scale(1.020,1)" font-size="6.6" fill="#000"><tspan font-weight="bold">4</tspan></text></g>
<line x1="17.50" y1="602.50" x2="20.50" y2="602.50" stroke="#3c3c3c" stroke-width="1"/>
<g stroke="#000" stroke-width="0.12"><text transform="translate(12.60,604.51) scale(1.020,1)" font-size="6.6" fill="#000"><tspan font-weight="bold">6</tspan></text></g>
<line x1="17.50" y1="576.50" x2="20.50" y2="576.50" stroke="#3c3c3c" stroke-width="1"/>
<g stroke="#000" stroke-width="0.12"><text transform="translate(12.57,579.01) scale(1.020,1)" font-size="6.6" fill="#000"><tspan font-weight="bold">8</tspan></text></g>
<g stroke="#000" stroke-width="0.4"><text transform="translate(65.66,563.80) scale(1.168,1)" font-size="8.4" fill="#000"><tspan font-weight="bold">MCP-1 / day1</tspan></text></g>
<g stroke="#000" stroke-width="0.36"><text transform="translate(44.51,700.30) scale(1.003,1)" font-size="8.6" fill="#000"><tspan font-weight="bold">time post-challenge (hrs)</tspan></text></g>
<g stroke="#000" stroke-width="0.38"><text transform="translate(7.70,634.35) rotate(-90) scale(0.986,1)" font-size="8.6" fill="#000"><tspan font-weight="bold">ng/ml</tspan></text></g>
<rect x="183.95" y="582.70" width="14.35" height="4.4" fill="#fff" stroke="#2a2a2a" stroke-width="0.9"/>
<text transform="translate(200.41,587.60) scale(1.186,1)" font-size="7.9" fill="#000" stroke="#000" stroke-width="0.24">IL-2</text>
<rect x="183.95" y="594.85" width="14.35" height="4.4" fill="url(#hatchL)" stroke="#2a2a2a" stroke-width="0.9"/>
<text transform="translate(200.47,599.75) scale(1.103,1)" font-size="7.9" fill="#000" stroke="#000" stroke-width="0.24">IPP X1</text>
<rect x="183.50" y="606.25" width="15.25" height="5.3" fill="#0a0a0a"/>
<text transform="translate(200.57,611.60) scale(1.070,1)" font-size="7.9" fill="#000" stroke="#000" stroke-width="0.24">LPS X1</text>
<g transform="translate(294.1,680.6) skewY(0.2) translate(-294.1,-680.6)">
<rect x="301.70" y="678.82" width="3.50" height="1.78" fill="url(#hatch)" stroke="#1e1e1e" stroke-width="1.0"/>
<rect x="307.10" y="641.87" width="4.50" height="38.73" fill="#0a0a0a"/>
<rect x="319.07" y="680.43" width="3.50" height="0.17" fill="#fff" stroke="#1e1e1e" stroke-width="1.0"/>
<rect x="324.97" y="680.43" width="3.50" height="0.17" fill="url(#hatch)" stroke="#1e1e1e" stroke-width="1.0"/>
<rect x="330.37" y="656.08" width="4.50" height="24.52" fill="#0a0a0a"/>
<rect x="342.34" y="673.33" width="3.50" height="7.27" fill="#fff" stroke="#1e1e1e" stroke-width="1.0"/>
<rect x="348.24" y="677.75" width="3.50" height="2.85" fill="url(#hatch)" stroke="#1e1e1e" stroke-width="1.0"/>
<rect x="353.64" y="634.10" width="4.50" height="46.50" fill="#0a0a0a"/>
<rect x="365.61" y="675.34" width="3.50" height="5.26" fill="#fff" stroke="#1e1e1e" stroke-width="1.0"/>
<rect x="371.51" y="679.36" width="3.50" height="1.24" fill="url(#hatch)" stroke="#1e1e1e" stroke-width="1.0"/>
<rect x="376.91" y="628.61" width="4.50" height="51.99" fill="#0a0a0a"/>
<rect x="388.88" y="679.76" width="3.50" height="0.84" fill="#fff" stroke="#1e1e1e" stroke-width="1.0"/>
<rect x="394.78" y="680.43" width="3.50" height="0.17" fill="url(#hatch)" stroke="#1e1e1e" stroke-width="1.0"/>
<rect x="400.18" y="644.02" width="4.50" height="36.58" fill="#0a0a0a"/>
<rect x="412.15" y="676.95" width="3.50" height="3.65" fill="#fff" stroke="#1e1e1e" stroke-width="1.0"/>
<rect x="418.05" y="680.43" width="3.50" height="0.17" fill="url(#hatch)" stroke="#1e1e1e" stroke-width="1.0"/>
<rect x="423.45" y="637.99" width="4.50" height="42.61" fill="#0a0a0a"/>
<rect x="435.42" y="674.80" width="3.50" height="5.80" fill="#fff" stroke="#1e1e1e" stroke-width="1.0"/>
<rect x="441.32" y="678.82" width="3.50" height="1.78" fill="url(#hatch)" stroke="#1e1e1e" stroke-width="1.0"/>
<rect x="446.72" y="583.05" width="4.50" height="97.55" fill="#0a0a0a"/>
<line x1="291.10" y1="680.60" x2="455.30" y2="680.60" stroke="#333" stroke-width="1.05"/>
<g stroke="#000" stroke-width="0.15"><text transform="translate(298.39,688.40) scale(1.000,1)" font-size="7.2" fill="#000"><tspan font-weight="bold">0.5</tspan></text></g>
<g stroke="#000" stroke-width="0.15"><text transform="translate(324.60,688.40) scale(1.000,1)" font-size="7.2" fill="#000"><tspan font-weight="bold">1</tspan></text></g>
<g stroke="#000" stroke-width="0.15"><text transform="translate(348.01,688.40) scale(1.000,1)" font-size="7.2" fill="#000"><tspan font-weight="bold">2</tspan></text></g>
<g stroke="#000" stroke-width="0.15"><text transform="translate(371.26,688.40) scale(1.000,1)" font-size="7.2" fill="#000"><tspan font-weight="bold">6</tspan></text></g>
<g stroke="#000" stroke-width="0.15"><text transform="translate(392.55,688.40) scale(1.000,1)" font-size="7.2" fill="#000"><tspan font-weight="bold">20</tspan></text></g>
<g stroke="#000" stroke-width="0.15"><text transform="translate(415.70,688.40) scale(1.000,1)" font-size="7.2" fill="#000"><tspan font-weight="bold">24</tspan></text></g>
<g stroke="#000" stroke-width="0.15"><text transform="translate(439.13,688.40) scale(1.000,1)" font-size="7.2" fill="#000"><tspan font-weight="bold">48</tspan></text></g>
</g>
<line x1="294.50" y1="572.90" x2="294.50" y2="680.60" stroke="#3c3c3c" stroke-width="1"/>
<g stroke="#000" stroke-width="0.12"><text transform="translate(285.76,683.11) scale(1.130,1)" font-size="6.6" fill="#000"><tspan font-weight="bold">0</tspan></text></g>
<line x1="291.50" y1="653.50" x2="294.50" y2="653.50" stroke="#3c3c3c" stroke-width="1"/>
<g stroke="#000" stroke-width="0.12"><text transform="translate(285.76,656.31) scale(1.130,1)" font-size="6.6" fill="#000"><tspan font-weight="bold">2</tspan></text></g>
<line x1="291.50" y1="627.50" x2="294.50" y2="627.50" stroke="#3c3c3c" stroke-width="1"/>
<g stroke="#000" stroke-width="0.12"><text transform="translate(285.50,629.51) scale(1.130,1)" font-size="6.6" fill="#000"><tspan font-weight="bold">4</tspan></text></g>
<line x1="291.50" y1="600.50" x2="294.50" y2="600.50" stroke="#3c3c3c" stroke-width="1"/>
<g stroke="#000" stroke-width="0.12"><text transform="translate(285.72,602.71) scale(1.130,1)" font-size="6.6" fill="#000"><tspan font-weight="bold">6</tspan></text></g>
<line x1="291.50" y1="573.50" x2="294.50" y2="573.50" stroke="#3c3c3c" stroke-width="1"/>
<g stroke="#000" stroke-width="0.12"><text transform="translate(285.68,575.91) scale(1.130,1)" font-size="6.6" fill="#000"><tspan font-weight="bold">8</tspan></text></g>
<g stroke="#000" stroke-width="0.4"><text transform="translate(338.13,560.00) scale(1.227,1)" font-size="8.4" fill="#000"><tspan font-weight="bold">MCP-1 / day 14</tspan></text></g>
<g stroke="#000" stroke-width="0.36"><text transform="translate(322.61,701.90) scale(0.998,1)" font-size="8.6" fill="#000"><tspan font-weight="bold">time post-challenge (hrs)</tspan></text></g>
<g stroke="#000" stroke-width="0.38"><text transform="translate(281.20,634.36) rotate(-90) scale(1.005,1)" font-size="8.6" fill="#000"><tspan font-weight="bold">ng/ml</tspan></text></g>
<rect x="466.45" y="579.85" width="14.60" height="4.4" fill="#fff" stroke="#2a2a2a" stroke-width="0.9"/>
<text transform="translate(483.91,584.75) scale(1.186,1)" font-size="7.9" fill="#000" stroke="#000" stroke-width="0.24">IL-2</text>
<rect x="466.45" y="591.70" width="14.60" height="4.4" fill="url(#hatchL)" stroke="#2a2a2a" stroke-width="0.9"/>
<text transform="translate(483.91,596.60) scale(1.178,1)" font-size="7.9" fill="#000" stroke="#000" stroke-width="0.24">IPP X3</text>
<rect x="466.00" y="603.10" width="15.50" height="5.3" fill="#0a0a0a"/>
<text transform="translate(484.06,608.45) scale(1.099,1)" font-size="7.9" fill="#000" stroke="#000" stroke-width="0.24">LPS X3</text>
</svg>
</body></html>
